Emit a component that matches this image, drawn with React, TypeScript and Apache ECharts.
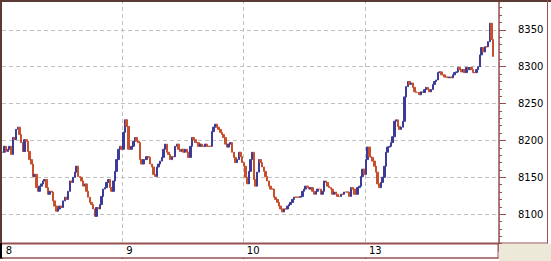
import React, { useEffect, useRef } from "react";
import * as echarts from "echarts";

const dayLabels = ["8", "9", "10", "13"];

const day8 = [
  8184, 8192, 8185, 8188, 8192, 8181, 8204, 8201, 8215, 8218,
  8208, 8197, 8185, 8201, 8199, 8185, 8174, 8168, 8151, 8154,
  8136, 8131, 8138, 8141, 8145, 8147, 8136, 8127, 8131, 8130,
  8118, 8111, 8104, 8107, 8111, 8109, 8118, 8123, 8120, 8131,
  8145, 8143, 8150, 8157, 8165, 8151, 8150, 8145,
  8138, 8141, 8131, 8123, 8116, 8113, 8107, 8097, 8109, 8107,
  8113, 8124, 8134, 8136, 8143, 8147, 8136, 8131, 8145, 8158,
  8174, 8188, 8192, 8188,
];

const day9 = [
  8211, 8228, 8219, 8188, 8188, 8192, 8199, 8204, 8199, 8197,
  8174, 8168, 8174, 8174, 8178, 8177, 8168, 8164, 8154, 8151,
  8164, 8168, 8172, 8177, 8188, 8195,
  8184, 8181, 8174, 8178, 8178, 8192, 8195, 8188, 8185, 8188,
  8184, 8188, 8184, 8177, 8192, 8204, 8201, 8197, 8197, 8192,
  8195, 8192, 8192, 8195, 8192, 8192, 8192, 8212, 8218, 8222,
  8218, 8215, 8211, 8208, 8204, 8195, 8191, 8195, 8197, 8184,
  8177, 8170, 8174, 8184, 8178, 8170,
];

const day10 = [
  8165, 8150, 8141, 8158,
  8174, 8184, 8147, 8138, 8157, 8174, 8170, 8164, 8158, 8151,
  8145, 8138, 8134, 8134, 8123, 8120, 8116, 8111, 8107, 8103,
  8107, 8107, 8111, 8113, 8116, 8120, 8123, 8123, 8123, 8123,
  8124, 8131, 8134, 8138, 8136, 8134, 8136, 8131, 8127, 8131,
  8134, 8134, 8127, 8131, 8145, 8143, 8138, 8136, 8134, 8127,
  8130, 8127, 8124, 8124, 8127, 8127, 8130, 8130, 8130, 8124,
  8136, 8134, 8127, 8127, 8136, 8138, 8151, 8161, 8154,
];

const day13 = [
  8174, 8191, 8178, 8177, 8172, 8165, 8157, 8141, 8136, 8143,
  8150, 8165, 8184, 8191, 8192, 8197, 8205, 8226, 8228, 8219,
  8215, 8218, 8226, 8259, 8273, 8280, 8276, 8278, 8272, 8266,
  8265,
  8265, 8262, 8266, 8265, 8269, 8272, 8269, 8266, 8269, 8276,
  8280, 8282, 8292, 8293, 8289, 8289, 8286, 8286, 8285, 8286,
  8285, 8289, 8292, 8293, 8299, 8296, 8293, 8296, 8292, 8299,
  8296, 8299, 8296, 8292, 8292, 8296, 8300, 8316, 8326, 8320,
  8327, 8327, 8334, 8359, 8337, 8314,
];

const yTickValues = [8100, 8150, 8200, 8250, 8300, 8350];
const slotCount = 297;

const BORDER = "#975050";
const DARK = "#5c3a34";
const GRID = "#c0c0c0";
const UP = "#3c3c98";
const DOWN = "#c8502d";
const FONT = "DejaVu Sans";
const OFF = 10; // the chart canvas starts 10px above the page so the value axis can extend past the top

export default function App() {
  const ref = useRef<HTMLDivElement>(null);
  useEffect(() => {
    if (!ref.current) return;
    const chart = echarts.init(ref.current, null, { renderer: "svg" });
    const days = [day8, day9, day10, day13];
    const closes: number[] = [];
    const categories: string[] = [];
    const starts = new Set<number>();
    days.forEach((d, di) => {
      starts.add(closes.length);
      d.forEach((v, i) => {
        categories.push(`${dayLabels[di]}|${i}`);
        closes.push(v);
      });
    });
    while (categories.length < slotCount) categories.push(`pad|${categories.length}`);
    const candles = closes.map((c, i) => {
      const o = i === 0 ? c : closes[i - 1];
      return [o, c, Math.min(o, c), Math.max(o, c)];
    });

    chart.setOption({
      animation: false,
      backgroundColor: "#ffffff",
      grid: [
        { left: 2, right: 52, top: OFF - 7, bottom: 10, show: false },
        { left: 2, right: 52, top: OFF + 244, height: 14, show: false },
      ],
      xAxis: [
        {
          gridIndex: 0,
          type: "category",
          data: categories,
          boundaryGap: true,
          axisLine: { show: false },
          axisTick: { show: false },
          axisLabel: { show: false },
          splitLine: {
            show: true,
            interval: (i: number) => starts.has(i) && i > 0,
            lineStyle: { color: GRID, type: [4, 3], width: 1 },
          },
        },
        {
          gridIndex: 1,
          type: "category",
          data: categories,
          position: "top",
          boundaryGap: true,
          z: 10,
          axisLine: { show: false },
          axisTick: {
            show: true,
            inside: true,
            length: 14,
            interval: (i: number) => starts.has(i),
            lineStyle: { color: "#000", width: 1 },
          },
          axisLabel: {
            show: true,
            inside: true,
            margin: 1,
            interval: (i: number) => starts.has(i),
            align: "left",
            padding: [0, 0, 0, 3],
            color: "#000",
            fontFamily: FONT,
            fontSize: 10,
            formatter: (v: string) => v.split("|")[0],
          },
          splitLine: { show: false },
        },
      ],
      yAxis: [
        {
          gridIndex: 0,
          type: "value",
          position: "right",
          min: 8050,
          max: 8400,
          interval: 50,
          axisLine: { show: true, lineStyle: { color: BORDER, width: 1.5 } },
          axisTick: { show: true, length: 7, lineStyle: { color: BORDER, width: 1 } },
          minorTick: { show: true, splitNumber: 5, length: 3, lineStyle: { color: BORDER, width: 1 } },
          axisLabel: {
            margin: 19,
            color: "#000",
            fontFamily: FONT,
            fontSize: 10,
            formatter: (v: number) => (yTickValues.includes(v) ? String(v) : ""),
          },
          splitLine: { show: true, lineStyle: { color: GRID, type: [4, 3], width: 1 } },
        },
        { gridIndex: 1, type: "value", show: false },
      ],
      series: [
        {
          type: "candlestick",
          xAxisIndex: 0,
          yAxisIndex: 0,
          data: candles,
          barWidth: 2,
          itemStyle: {
            color: UP,
            color0: DOWN,
            borderColor: UP,
            borderColor0: DOWN,
            borderColorDoji: DOWN,
            borderWidth: 1,
          },
        },
      ],
      graphic: [
        { type: "rect", z: 5, silent: true, shape: { x: 2, y: OFF + 244, width: 496, height: 14 }, style: { fill: "#ffffff" } },
        { type: "rect", z: 20, silent: true, shape: { x: 0, y: 0, width: 551, height: OFF }, style: { fill: "#ffffff" } },
        { type: "rect", z: 20, silent: true, shape: { x: 499, y: OFF + 244, width: 52, height: 17 }, style: { fill: "#ECE9D8" } },
        { type: "rect", z: 20, silent: true, shape: { x: 0, y: OFF + 259, width: 499, height: 2 }, style: { fill: "#ffffff" } },
        { type: "line", z: 30, silent: true, shape: { x1: 0, y1: OFF + 1, x2: 551, y2: OFF + 1 }, style: { stroke: DARK, lineWidth: 2 } },
        { type: "line", z: 30, silent: true, shape: { x1: 1, y1: OFF, x2: 1, y2: OFF + 244 }, style: { stroke: DARK, lineWidth: 2 } },
        { type: "line", z: 30, silent: true, shape: { x1: 0, y1: OFF + 243.5, x2: 499, y2: OFF + 243.5 }, style: { stroke: BORDER, lineWidth: 2 } },
        { type: "line", z: 30, silent: true, shape: { x1: 499, y1: OFF + 243, x2: 548, y2: OFF + 243 }, style: { stroke: BORDER, lineWidth: 1 } },
        { type: "line", z: 30, silent: true, shape: { x1: 547.5, y1: OFF, x2: 547.5, y2: OFF + 243.5 }, style: { stroke: BORDER, lineWidth: 1 } },
        { type: "line", z: 30, silent: true, shape: { x1: 0, y1: OFF + 258, x2: 498.5, y2: OFF + 258 }, style: { stroke: BORDER, lineWidth: 1.5 } },
        { type: "line", z: 30, silent: true, shape: { x1: 498, y1: OFF + 243, x2: 498, y2: OFF + 258.5 }, style: { stroke: BORDER, lineWidth: 1 } },
        { type: "line", z: 30, silent: true, shape: { x1: 1, y1: OFF + 243, x2: 1, y2: OFF + 258.5 }, style: { stroke: "#000", lineWidth: 2 } },
      ],
    });
    return () => chart.dispose();
  }, []);
  return (
    <div
      ref={ref}
      style={{ position: "fixed", left: 0, top: -OFF, width: 551, height: 261 + OFF, background: "#fff" }}
    />
  );
}
